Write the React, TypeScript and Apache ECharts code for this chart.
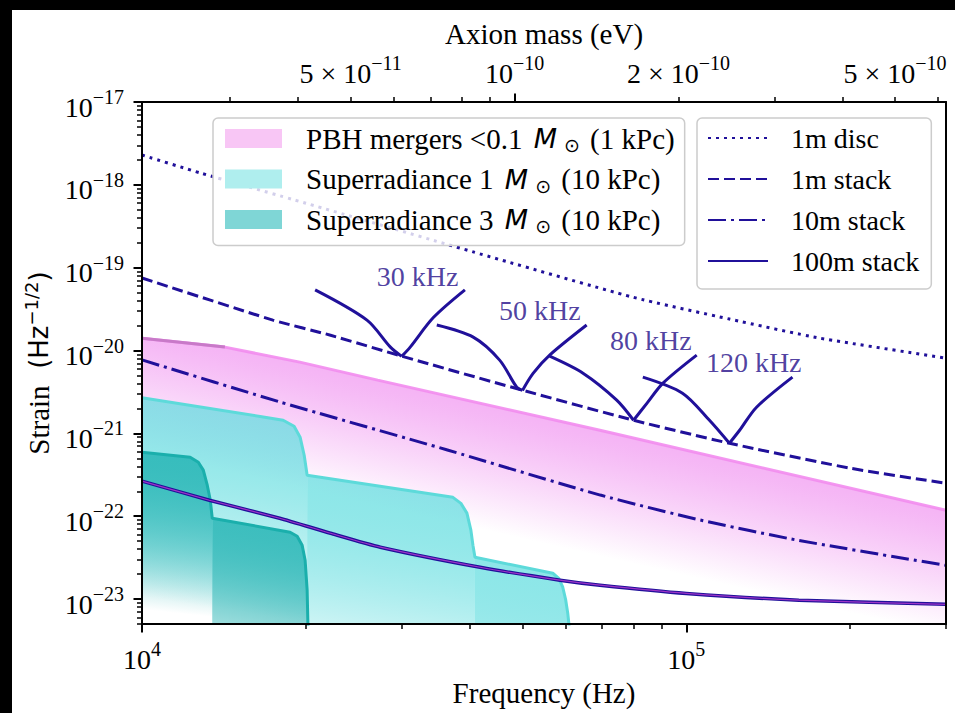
import React, { useEffect, useRef } from "react";
import * as echarts from "echarts";

// ---------------- axis ranges ----------------
const FREQ_MIN = 1e4;
const FREQ_MAX = 3e5;
const STRAIN_MIN = 5e-24;
const STRAIN_MAX = 1e-17;
const HZ_PER_EV = 2 * 2.417989e14; // GW frequency = 2 x axion Compton frequency

// ---------------- tick values ----------------
const freqMajorTicks = [1e4, 1e5];
const freqMinorTicks = [2e4, 3e4, 4e4, 5e4, 6e4, 7e4, 8e4, 9e4, 2e5, 3e5];
const massLabelTicks = [5e-11, 1e-10, 2e-10, 5e-10];
const massMajorTicks = [1e-10];
const massMinorTicks = [3e-11, 4e-11, 5e-11, 6e-11, 7e-11, 8e-11, 9e-11, 2e-10, 3e-10, 4e-10, 5e-10, 6e-10];
const strainMajorTicks = [1e-23, 1e-22, 1e-21, 1e-20, 1e-19, 1e-18, 1e-17];
const strainMinorMantissas = [2, 3, 4, 5, 6, 7, 8, 9];

// ---------------- sensitivity curves ----------------
const discFreq = [1e4, 1.28e4, 2e4, 4.06e4, 7.98e4, 1.2e5, 1.76e5, 3e5];
const discStrain = [2.29e-18, 1.39e-18, 6.0e-19, 1.55e-19, 4.4e-20, 2.4e-20, 1.41e-20, 8.1e-21];

const stack1Freq = [1e4, 1.74e4, 2.22e4, 3e4, 5e4, 8e4, 1.2e5, 2e5, 3e5];
const stack1Strain = [7.5e-20, 2.33e-20, 1.53e-20, 8.55e-21, 3.32e-21, 1.44e-21, 7.6e-22, 3.8e-22, 2.5e-22];

const stack10Freq = [1e4, 1.79e4, 3.64e4, 6.95e4, 1.06e5, 1.61e5, 3e5];
const stack10Strain = [7.7e-21, 2.4e-21, 6.3e-22, 1.8e-22, 9e-23, 5.1e-23, 2.55e-23];

const stack100Freq = [1e4, 1.33e4, 1.79e4, 2.22e4, 2.74e4, 4.18e4, 5.86e4, 6.94e4, 1e5, 1.61e5, 3e5];
const stack100Strain = [2.65e-22, 1.56e-22, 9.46e-23, 6.23e-23, 4.23e-23, 2.42e-23, 1.69e-23, 1.47e-23, 1.17e-23, 9.7e-24, 8.65e-24];

// ---------------- resonant (tuned) curves ----------------
const res30Freq = [20.8e3, 25.9e3, 28.6e3, 30e3, 31.1e3, 34.3e3, 39.2e3];
const res30Strain = [5.4e-20, 2.33e-20, 1.1e-20, 8.5e-21, 1.1e-20, 2.5e-20, 5.4e-20];
const res50Freq = [34.8e3, 40.6e3, 45.4e3, 48.8e3, 50e3, 52.3e3, 56.1e3, 65.6e3];
const res50Strain = [2.03e-20, 1.45e-20, 7.66e-21, 3.61e-21, 3.3e-21, 5.3e-21, 8.8e-21, 2.03e-20];
const res80Freq = [56.1e3, 64.6e3, 74.5e3, 80e3, 84.7e3, 90.6e3, 104.5e3];
const res80Strain = [8.55e-21, 5.33e-21, 2.52e-21, 1.44e-21, 2.32e-21, 4.04e-21, 8.8e-21];
const res120Freq = [83.2e3, 98.4e3, 110.3e3, 120e3, 125.3e3, 134.6e3, 156.7e3];
const res120Strain = [4.78e-21, 3.06e-21, 1.44e-21, 7.6e-22, 1.09e-21, 2.07e-21, 4.78e-21];

const resLabelFreq = [32.1e3, 53.8e3, 86.1e3, 133e3];
const resLabelStrain = [7.9e-20, 3.08e-20, 1.34e-20, 7.24e-21];
const resLabelText = ["30 kHz", "50 kHz", "80 kHz", "120 kHz"];

// ---------------- signal regions ----------------
const pbhFreq = [1e4, 1.42e4, 1.95e4, 2.71e4, 6.94e4, 3e5];
const pbhStrain = [1.41e-20, 1.1e-20, 7.24e-21, 4.39e-21, 1.09e-21, 1.18e-22];

const sr1Freq1 = [1e4, 16.7e3, 18.17e3, 19.03e3, 19.52e3, 19.86e3, 20.11e3];
const sr1Strain1 = [2.69e-21, 1.58e-21, 1.44e-21, 1.22e-21, 9.0e-22, 5.45e-22, 3.13e-22];
const sr1Freq2 = [20.11e3, 37.26e3, 38.54e3, 39.53e3, 40.2e3, 40.55e3, 40.9e3];
const sr1Strain2 = [3.13e-22, 1.69e-22, 1.43e-22, 1.09e-22, 6.78e-23, 4.47e-23, 3.2e-23];
const sr1Freq3 = [40.9e3, 56.85e3, 58.3e3, 59.3e3, 60.05e3, 60.56e3, 61.08e3];
const sr1Strain3 = [3.2e-23, 2.05e-23, 1.78e-23, 1.39e-23, 9.7e-24, 6.75e-24, 4e-24];

const sr3Freq1 = [1e4, 12.26e3, 12.69e3, 12.96e3, 13.18e3, 13.35e3, 13.46e3];
const sr3Strain1 = [5.93e-22, 5.16e-22, 4.49e-22, 3.6e-22, 2.37e-22, 1.56e-22, 9.46e-23];
const sr3Freq2 = [13.46e3, 18.71e3, 19.28e3, 19.69e3, 19.94e3, 20.11e3, 20.19e3];
const sr3Strain2 = [9.46e-23, 6.41e-23, 5.73e-23, 4.47e-23, 2.94e-23, 1.28e-23, 4e-24];

// ---------------- names ----------------
const PBH = "PBH mergers <0.1 M⊙ (1 kPc)";
const SR1 = "Superradiance 1 M⊙ (10 kPc)";
const SR3 = "Superradiance 3 M⊙ (10 kPc)";
const legendRichText: Record<string, string> = {
  [PBH]: "{t|PBH mergers <0.1 }{m|M}{o|⊙}{t| (1 kPc)}",
  [SR1]: "{t|Superradiance 1 }{m|M}{o|⊙}{t| (10 kPc)}",
  [SR3]: "{t|Superradiance 3 }{m|M}{o|⊙}{t| (10 kPc)}",
};

// ---------------- styles ----------------
const SERIF = '"Liberation Serif", "Times New Roman", Times, serif';
const SANS = '"DejaVu Sans", sans-serif';
const LINE = "#20109a";
const FS = 28;
const FS_SUP = 20;

const lg = (v: number) => Math.log10(v);
const pairs = (xs: number[], ys: number[]) => xs.map((x, i) => [x, ys[i]]);

type Fade = { rgb: number[]; a0: number; depth: number; power: number };

// each region: polygon from its upper edge down to the plot floor, filled by a
// gradient that fades with depth (in decades) below the edge
function gradientFill(segments: number[][][], dirIdx: number[], spec: Fade) {
  return (params: any, api: any) => {
    const cs = params.coordSys;
    const yMax = cs.y + cs.height;
    const children: any[] = [];
    for (const seg of segments) {
      const fs = seg[0];
      const hs = seg[1];
      const top = fs.map((f, i) => api.coord([f, hs[i]]));
      const i0 = dirIdx[0];
      const i1 = dirIdx[1] < 0 ? top.length - 1 : dirIdx[1];
      const a = top[i0];
      const b = top[i1];
      const dx = b[0] - a[0];
      const dy = b[1] - a[1];
      const len = Math.hypot(dx, dy) || 1;
      const nx = -dy / len;
      const ny = dx / len;
      const pxDecade = api.coord([fs[i0], hs[i0] * 0.1])[1] - a[1];
      const dist = spec.depth * pxDecade * ny;
      const stops: any[] = [];
      for (let k = 0; k <= 12; k++) {
        const o = k / 12;
        const al = spec.a0 * (1 - Math.pow(o, spec.power));
        stops.push({ offset: o, color: `rgba(${spec.rgb.join(",")},${al.toFixed(4)})` });
      }
      const pts = top.map((p: number[]) => [p[0], Math.min(p[1], yMax)]);
      pts.push([top[top.length - 1][0], yMax], [top[0][0], yMax]);
      children.push({
        type: "polygon",
        shape: { points: pts },
        style: {
          fill: {
            type: "linear",
            x: a[0],
            y: a[1],
            x2: a[0] + nx * dist,
            y2: a[1] + ny * dist,
            global: true,
            colorStops: stops,
          },
        },
        silent: true,
      });
    }
    return { type: "group", children };
  };
}

const sup = (base: string, exp: string) => `{b|${base}}{s|${exp}}`;
const tickRich = {
  b: { fontFamily: SERIF, fontSize: FS, lineHeight: 40, color: "#000" },
  s: { fontFamily: SERIF, fontSize: FS_SUP, lineHeight: 12, verticalAlign: "top", color: "#000" },
};

function lineSeries(name: string, xs: number[], ys: number[], style: any, z = 5, smooth: number | boolean = 0.2) {
  return {
    type: "line",
    name,
    xAxisIndex: 0,
    yAxisIndex: 0,
    data: pairs(xs, ys),
    symbol: "none",
    showSymbol: false,
    smooth,
    lineStyle: style,
    silent: true,
    z,
    emphasis: { disabled: true },
  };
}

// a resonance curve: two smooth branches meeting at a sharp minimum
function resonance(id: string, xs: number[], ys: number[]) {
  let m = 0;
  ys.forEach((y, i) => {
    if (y < ys[m]) m = i;
  });
  const st = { color: LINE, width: 3 };
  return [
    lineSeries(id + "L", xs.slice(0, m + 1), ys.slice(0, m + 1), st, 5, 0.3),
    lineSeries(id + "R", xs.slice(m), ys.slice(m), st, 5, 0.3),
  ];
}

function buildOption() {
  const strainMinor: number[] = [];
  for (let e = -24; e < -17; e++) {
    for (const m of strainMinorMantissas) {
      const v = m * Math.pow(10, e);
      if (v >= STRAIN_MIN && v <= STRAIN_MAX) strainMinor.push(lg(v));
    }
  }
  const axisBase = {
    splitLine: { show: false },
    axisPointer: { show: false },
    z: 10,
    silent: true,
  };
  const noLine = { show: false };
  const spine = { show: true, onZero: false, lineStyle: { color: "#000", width: 2 } };
  const majorTick = (vals: number[]) => ({ show: true, inside: false, length: 8.5, lineStyle: { color: "#000", width: 2 }, customValues: vals });
  const minorTick = (vals: number[]) => ({ show: true, inside: false, length: 5, lineStyle: { color: "#000", width: 1.5 }, customValues: vals });

  const massFmt = (v: number) => {
    const e = Math.floor(v + 1e-9);
    const mant = Math.round(Math.pow(10, v - e));
    return mant === 1 ? sup("10", "−" + -e) : sup(`${mant} × 10`, "−" + -e);
  };

  return {
    animation: false,
    backgroundColor: "#fff",
    textStyle: { fontFamily: SERIF },
    grid: { left: 130, top: 92, right: 9, bottom: 89, containLabel: false },
    xAxis: [
      { type: "log", logBase: 10, min: FREQ_MIN, max: FREQ_MAX, show: false },
      {
        ...axisBase,
        type: "value",
        position: "bottom",
        min: lg(FREQ_MIN),
        max: lg(FREQ_MAX),
        axisLine: spine,
        axisTick: majorTick(freqMajorTicks.map(lg)),
        axisLabel: {
          show: true,
          customValues: freqMajorTicks.map(lg),
          margin: 15,
          formatter: (v: number) => sup("10", String(Math.round(v))),
          rich: tickRich,
        },
        name: "Frequency (Hz)",
        nameLocation: "middle",
        nameGap: 54,
        nameTextStyle: { fontFamily: SERIF, fontSize: 29, color: "#000" },
      },
      {
        ...axisBase,
        type: "value",
        position: "bottom",
        min: lg(FREQ_MIN),
        max: lg(FREQ_MAX),
        axisLine: noLine,
        axisTick: minorTick(freqMinorTicks.map(lg)),
        axisLabel: { show: false },
      },
      {
        ...axisBase,
        type: "value",
        position: "top",
        min: lg(FREQ_MIN / HZ_PER_EV),
        max: lg(FREQ_MAX / HZ_PER_EV),
        axisLine: spine,
        axisTick: majorTick(massMajorTicks.map(lg)),
        axisLabel: { show: true, customValues: massLabelTicks.map(lg), margin: 9, formatter: massFmt, rich: tickRich },
        name: "Axion mass (eV)",
        nameLocation: "middle",
        nameGap: 53,
        nameTextStyle: { fontFamily: SERIF, fontSize: 29, color: "#000" },
      },
      {
        ...axisBase,
        type: "value",
        position: "top",
        min: lg(FREQ_MIN / HZ_PER_EV),
        max: lg(FREQ_MAX / HZ_PER_EV),
        axisLine: noLine,
        axisTick: minorTick(massMinorTicks.map(lg)),
        axisLabel: { show: false },
      },
    ],
    yAxis: [
      { type: "log", logBase: 10, min: STRAIN_MIN, max: STRAIN_MAX, show: false },
      {
        ...axisBase,
        type: "value",
        position: "left",
        min: lg(STRAIN_MIN),
        max: lg(STRAIN_MAX),
        axisLine: spine,
        axisTick: majorTick(strainMajorTicks.map(lg)),
        axisLabel: {
          show: true,
          customValues: strainMajorTicks.map(lg),
          margin: 18,
          padding: [10, 0, 0, 0],
          formatter: (v: number) => sup("10", "−" + -Math.round(v)),
          rich: tickRich,
        },
        name: "{s|Strain}{h|  (Hz}{e|−1/2}{h|)}",
        nameLocation: "middle",
        nameRotate: 90,
        nameGap: 86,
        nameTextStyle: {
          rich: {
            s: { fontFamily: SERIF, fontSize: 29, lineHeight: 34, color: "#000" },
            h: { fontFamily: SANS, fontSize: 26, lineHeight: 34, color: "#000" },
            e: { fontFamily: SANS, fontSize: 18, lineHeight: 14, verticalAlign: "top", color: "#000" },
          },
        },
      },
      {
        ...axisBase,
        type: "value",
        position: "left",
        min: lg(STRAIN_MIN),
        max: lg(STRAIN_MAX),
        axisLine: noLine,
        axisTick: minorTick(strainMinor),
        axisLabel: { show: false },
      },
      {
        ...axisBase,
        type: "value",
        position: "right",
        min: lg(STRAIN_MIN),
        max: lg(STRAIN_MAX),
        axisLine: spine,
        axisTick: { show: false },
        axisLabel: { show: false },
      },
    ],
    legend: [
      {
        data: [
          { name: PBH, icon: "rect", itemStyle: { color: "#f8c6f5", borderWidth: 0 } },
          { name: SR1, icon: "rect", itemStyle: { color: "#afeeee", borderWidth: 0 } },
          { name: SR3, icon: "rect", itemStyle: { color: "#7fd6d6", borderWidth: 0 } },
        ],
        selectedMode: false,
        orient: "vertical",
        left: 201,
        top: 108,
        itemWidth: 57,
        itemHeight: 19,
        itemGap: 10,
        padding: [6, 10, 10, 12],
        backgroundColor: "rgba(255,255,255,0.8)",
        borderColor: "#cccccc",
        borderWidth: 1.5,
        borderRadius: 5,
        formatter: (name: string) => legendRichText[name] || name,
        textStyle: {
          color: "#000",
          padding: [0, 0, 0, 19],
          rich: {
            t: { fontFamily: SERIF, fontSize: 29, lineHeight: 32, color: "#000" },
            m: { fontFamily: SANS, fontStyle: "italic", fontSize: 27, lineHeight: 32, color: "#000", padding: [0, 7, 0, 4] },
            o: { fontFamily: SANS, fontSize: 19, lineHeight: 18, verticalAlign: "bottom", color: "#000", padding: [0, 3, 0, 0] },
          },
        },
        z: 20,
      },
      {
        data: ["1m disc", "1m stack", "10m stack", "100m stack"],
        selectedMode: false,
        orient: "vertical",
        left: 685,
        top: 108,
        itemWidth: 60,
        itemHeight: 20,
        itemGap: 9,
        padding: [4, 12, 12, 10],
        backgroundColor: "rgba(255,255,255,0.8)",
        borderColor: "#cccccc",
        borderWidth: 1.5,
        borderRadius: 5,
        itemStyle: { opacity: 0 },
        textStyle: { color: "#000", fontFamily: SERIF, fontSize: FS, lineHeight: 32, padding: [0, 0, 0, 18] },
        z: 20,
      },
    ],
    series: [
      {
        type: "custom",
        name: PBH,
        xAxisIndex: 0,
        yAxisIndex: 0,
        data: [[1e5, 1e-21]],
        clip: true,
        silent: true,
        z: 1,
        itemStyle: { color: "#f8c6f5" },
        renderItem: gradientFill([[pbhFreq, pbhStrain]], [1, -1], { rgb: [238, 130, 238], a0: 0.6, depth: 1.5, power: 1.2 }),
      },
      lineSeries("pbhEdge", pbhFreq, pbhStrain, { color: "rgba(242,140,238,0.9)", width: 3 }, 2, false),
      lineSeries("pbhEdgeDark", pbhFreq.slice(0, 2), pbhStrain.slice(0, 2), { color: "#c87ac8", width: 3 }, 2, false),
      {
        type: "custom",
        name: SR1,
        xAxisIndex: 0,
        yAxisIndex: 0,
        data: [[1e5, 1e-21]],
        clip: true,
        silent: true,
        z: 2,
        itemStyle: { color: "#afeeee" },
        renderItem: gradientFill(
          [
            [sr1Freq1, sr1Strain1],
            [sr1Freq2, sr1Strain2],
            [sr1Freq3, sr1Strain3],
          ],
          [0, 1],
          { rgb: [92, 220, 222], a0: 0.7, depth: 2.4, power: 2 }
        ),
      },
      lineSeries("sr1Edge", sr1Freq1.concat(sr1Freq2, sr1Freq3), sr1Strain1.concat(sr1Strain2, sr1Strain3), { color: "#5ddada", width: 3 }, 3, false),
      {
        type: "custom",
        name: SR3,
        xAxisIndex: 0,
        yAxisIndex: 0,
        data: [[1e5, 1e-21]],
        clip: true,
        silent: true,
        z: 3,
        itemStyle: { color: "#7fd6d6" },
        renderItem: gradientFill(
          [
            [sr3Freq1, sr3Strain1],
            [sr3Freq2, sr3Strain2],
          ],
          [0, 1],
          { rgb: [32, 178, 178], a0: 0.8, depth: 1.9, power: 2 }
        ),
      },
      lineSeries("sr3Edge", sr3Freq1.concat(sr3Freq2), sr3Strain1.concat(sr3Strain2), { color: "#1aafac", width: 3 }, 3, false),
      lineSeries("1m disc", discFreq, discStrain, { color: LINE, width: 3, type: [3, 5] }),
      lineSeries("1m stack", stack1Freq, stack1Strain, { color: LINE, width: 3, type: [11, 5] }),
      lineSeries("10m stack", stack10Freq, stack10Strain, { color: LINE, width: 3, type: [18, 5, 3, 5] }),
      lineSeries("100m stack", stack100Freq, stack100Strain, { color: LINE, width: 3.5 }),
      lineSeries("100mOverlay", stack100Freq, stack100Strain, { color: "rgba(190,60,210,0.8)", width: 1.2 }, 6),
      ...resonance("res30", res30Freq, res30Strain),
      ...resonance("res50", res50Freq, res50Strain),
      ...resonance("res80", res80Freq, res80Strain),
      ...resonance("res120", res120Freq, res120Strain),
      {
        type: "scatter",
        name: "resLabels",
        xAxisIndex: 0,
        yAxisIndex: 0,
        data: resLabelFreq.map((f, i) => ({ value: [f, resLabelStrain[i]], name: resLabelText[i] })),
        symbolSize: 1,
        itemStyle: { color: "rgba(0,0,0,0)" },
        label: { show: true, position: "inside", formatter: "{b}", color: "#230e88", fontFamily: SERIF, fontSize: FS },
        silent: true,
        z: 8,
      },
    ],
  };
}

export default function App() {
  const ref = useRef<HTMLDivElement>(null);
  useEffect(() => {
    document.body.style.margin = "0";
    document.body.style.background = "#000";
    const chart = echarts.init(ref.current as HTMLDivElement, null, { renderer: "svg" });
    chart.setOption(buildOption() as any);
    return () => chart.dispose();
  }, []);
  return (
    <div style={{ position: "absolute", left: 0, top: 0, width: 955, height: 713, background: "#000", overflow: "hidden" }}>
      <div ref={ref} style={{ position: "absolute", left: 12, top: 10, width: 943, height: 703, background: "#fff" }} />
    </div>
  );
}
